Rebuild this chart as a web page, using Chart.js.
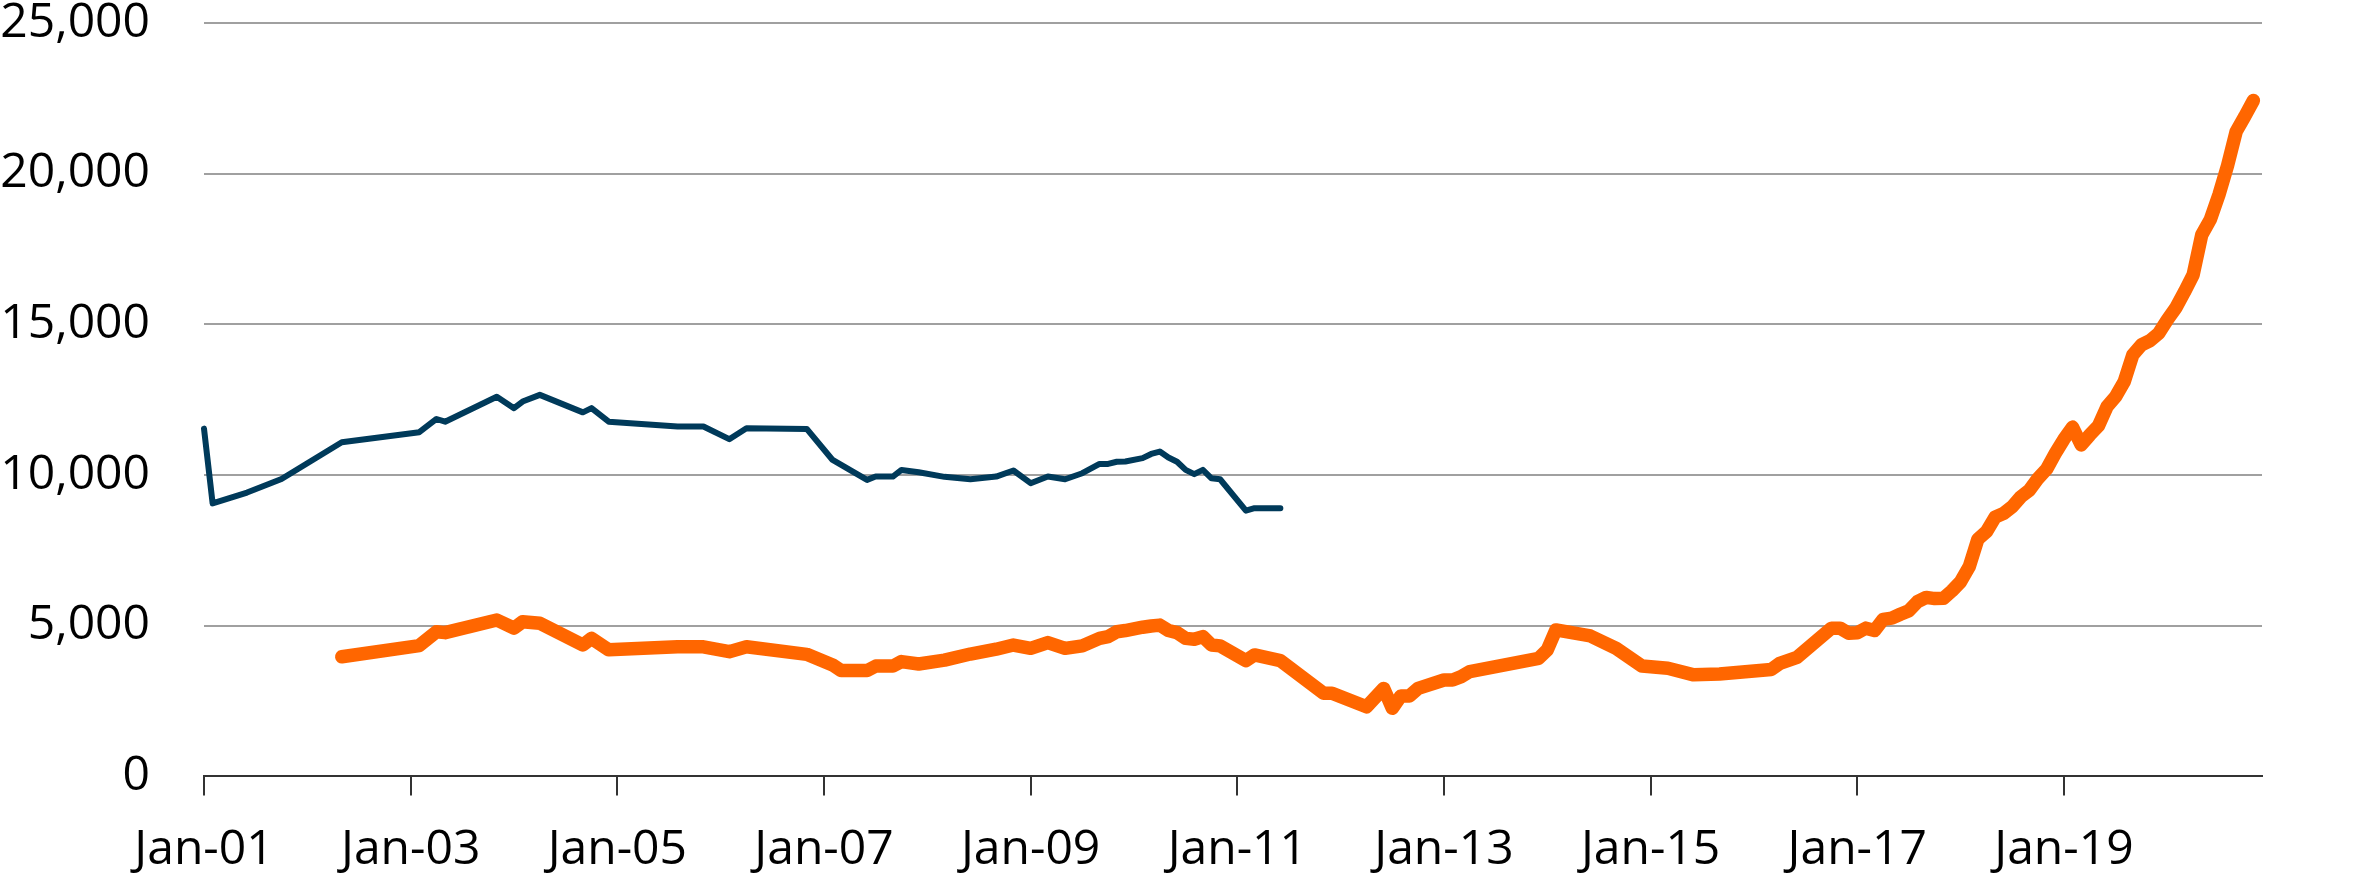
<!DOCTYPE html>
<html>
<head>
<meta charset="utf-8">
<script src="https://cdn.jsdelivr.net/npm/chart.js@4.4.1/dist/chart.umd.min.js"></script>
<style>
    body { margin: 0; background: #ffffff; }
</style>
</head>
<body>
<canvas id="grafico" width="2356" height="879"></canvas>
<script>
// Meses do eixo (Jan-01 .. Dec-20)
var meses = ["Jan", "Feb", "Mar", "Apr", "May", "Jun", "Jul", "Aug", "Sep", "Oct", "Nov", "Dec"];
var anos = ["01", "02", "03", "04", "05", "06", "07", "08", "09", "10",
            "11", "12", "13", "14", "15", "16", "17", "18", "19", "20"];

// Serie azul (observações)
var azulDatas = ["Jan-01", "Feb-01", "Jun-01", "Oct-01", "May-02", "Feb-03", "Apr-03", "May-03", "Nov-03",
    "Jan-04", "Feb-04", "Apr-04", "Sep-04", "Oct-04", "Dec-04", "Aug-05", "Nov-05", "Feb-06", "Apr-06",
    "Nov-06", "Feb-07", "Jun-07", "Jul-07", "Sep-07", "Oct-07", "Dec-07", "Mar-08", "Jun-08", "Sep-08",
    "Nov-08", "Jan-09", "Mar-09", "May-09", "Jul-09", "Sep-09", "Oct-09", "Nov-09", "Dec-09", "Feb-10",
    "Mar-10", "Apr-10", "May-10", "Jun-10", "Jul-10", "Aug-10", "Sep-10", "Oct-10", "Nov-10", "Feb-11",
    "Mar-11", "Jun-11"];
var azulValores = [11540, 9060, 9420, 9870, 11090, 11420, 11860, 11770, 12600,
    12220, 12440, 12660, 12080, 12220, 11770, 11610, 11610, 11190, 11550,
    11530, 10500, 9840, 9950, 9950, 10170, 10090, 9940, 9860, 9950,
    10150, 9730, 9950, 9860, 10060, 10370, 10370, 10440, 10450, 10560,
    10700, 10780, 10580, 10440, 10170, 10030, 10170, 9890, 9860, 8820,
    8900, 8900];

// Serie laranja
var laranjaDatas = ["May-02", "Feb-03", "Apr-03", "May-03", "Nov-03", "Jan-04", "Feb-04", "Apr-04", "Sep-04",
    "Oct-04", "Dec-04", "Aug-05", "Nov-05", "Feb-06", "Apr-06", "Nov-06", "Feb-07", "Mar-07", "Jun-07",
    "Jul-07", "Sep-07", "Oct-07", "Dec-07", "Mar-08", "Jun-08", "Sep-08", "Nov-08", "Jan-09", "Mar-09",
    "May-09", "Jul-09", "Sep-09", "Oct-09", "Nov-09", "Dec-09", "Feb-10", "Mar-10", "Apr-10", "May-10",
    "Jun-10", "Jul-10", "Aug-10", "Sep-10", "Oct-10", "Nov-10", "Feb-11", "Mar-11", "Jun-11", "Nov-11",
    "Dec-11", "Apr-12", "Jun-12", "Jul-12", "Aug-12", "Sep-12", "Oct-12", "Jan-13", "Feb-13", "Mar-13",
    "Apr-13", "Dec-13", "Jan-14", "Feb-14", "Jun-14", "Sep-14", "Dec-14", "Mar-15", "Jun-15", "Sep-15",
    "Mar-16", "Apr-16", "Jun-16", "Oct-16", "Nov-16", "Dec-16", "Jan-17", "Feb-17", "Mar-17", "Apr-17",
    "May-17", "Jun-17", "Jul-17", "Aug-17", "Sep-17", "Oct-17", "Nov-17", "Dec-17", "Jan-18", "Feb-18",
    "Mar-18", "Apr-18", "May-18", "Jun-18", "Jul-18", "Aug-18", "Sep-18", "Oct-18", "Nov-18", "Dec-18",
    "Jan-19", "Feb-19", "Mar-19", "Apr-19", "May-19", "Jun-19", "Jul-19", "Aug-19", "Sep-19", "Oct-19",
    "Nov-19", "Dec-19", "Jan-20", "Feb-20", "Mar-20", "Apr-20", "May-20", "Jun-20", "Jul-20", "Aug-20",
    "Sep-20", "Oct-20", "Nov-20"];
var laranjaValores = [3970, 4340, 4800, 4770, 5190, 4920, 5130, 5080, 4360,
    4580, 4200, 4300, 4300, 4140, 4300, 4050, 3700, 3510, 3510,
    3660, 3660, 3810, 3730, 3860, 4060, 4220, 4360, 4250, 4440,
    4250, 4330, 4580, 4640, 4800, 4840, 4950, 4990, 5020, 4840,
    4770, 4580, 4550, 4640, 4360, 4330, 3840, 4030, 3840, 2760,
    2760, 2310, 2920, 2260, 2670, 2670, 2920, 3200, 3200, 3310,
    3480, 3920, 4200, 4860, 4660, 4250, 3660, 3590, 3370, 3400,
    3550, 3750, 3950, 4920, 4920, 4750, 4770, 4920, 4840, 5210,
    5250, 5380, 5500, 5800, 5940, 5900, 5910, 6160, 6460, 6960,
    7870, 8120, 8600, 8730, 8950, 9280, 9500, 9890, 10200, 10720,
    11190, 11590, 11000, 11330, 11630, 12270, 12600, 13100, 13990, 14320,
    14460, 14700, 15150, 15550, 16080, 16640, 17970, 18480, 19300, 20270,
    21400, 21900, 22430];

// Monta a lista de categorias mensais
function montarCategorias() {
    var categorias = [];
    for (var i = 0; i < anos.length; i++) {
        for (var j = 0; j < meses.length; j++) {
            categorias.push(meses[j] + "-" + anos[i]);
        }
    }
    return categorias;
}

function montarPontos(datas, valores) {
    return datas.map(function (d, i) { return { x: d, y: valores[i] }; });
}

function desenharGrafico() {
    var categorias = montarCategorias();
    var ctx = document.getElementById("grafico");
    new Chart(ctx, {
        type: 'line',
        data: {
            labels: categorias,
            datasets: [{
                    label: 'Azul',
                    data: montarPontos(azulDatas, azulValores),
                    borderColor: '#003a5a',
                    borderWidth: 6,
                    pointRadius: 0,
                    borderCapStyle: 'round',
                    borderJoinStyle: 'round',
                    tension: 0
                }, {
                    label: 'Laranja',
                    data: montarPontos(laranjaDatas, laranjaValores),
                    borderColor: '#ff6600',
                    borderWidth: 13.5,
                    pointRadius: 0,
                    borderCapStyle: 'round',
                    borderJoinStyle: 'round',
                    tension: 0
                }]
        },
        options: {
            responsive: false,
            animation: false,
            devicePixelRatio: 1,
            layout: { padding: { top: 23, right: 94, left: 0, bottom: 0 } },
            plugins: { legend: { display: false }, tooltip: { enabled: false } },
            scales: {
                x: {
                    offset: false,
                    border: { display: true, color: '#333333', width: 2 },
                    grid: {
                        drawOnChartArea: false,
                        drawTicks: true,
                        tickLength: 19,
                        lineWidth: 2,
                        color: function (c) { return c.index % 24 === 0 ? '#333333' : 'rgba(0,0,0,0)'; }
                    },
                    ticks: {
                        autoSkip: false,
                        maxRotation: 0,
                        minRotation: 0,
                        padding: 26,
                        color: '#000000',
                        font: { family: "'Open Sans'", size: 48 },
                        callback: function (v, i) { return i % 24 === 0 ? categorias[i] : ''; }
                    },
                    afterFit: function (s) {
                        s.height = 879 - 776.4;
                        s.paddingLeft = 0;
                        s.paddingRight = 0;
                    }
                },
                y: {
                    min: 0,
                    max: 25000,
                    border: { display: false },
                    grid: { color: '#a0a0a0', lineWidth: 2, drawTicks: false },
                    ticks: {
                        stepSize: 5000,
                        padding: 54,
                        color: '#000000',
                        font: { family: "'Open Sans'", size: 48 },
                        callback: function (v) { return v.toLocaleString('en-US'); }
                    },
                    afterFit: function (s) {
                        s.width = 204;
                        s.paddingTop = 0;
                        s.paddingBottom = 0;
                    }
                }
            }
        }
    });
}

document.addEventListener("DOMContentLoaded", function () {
    desenharGrafico();
});
</script>
</body>
</html>
